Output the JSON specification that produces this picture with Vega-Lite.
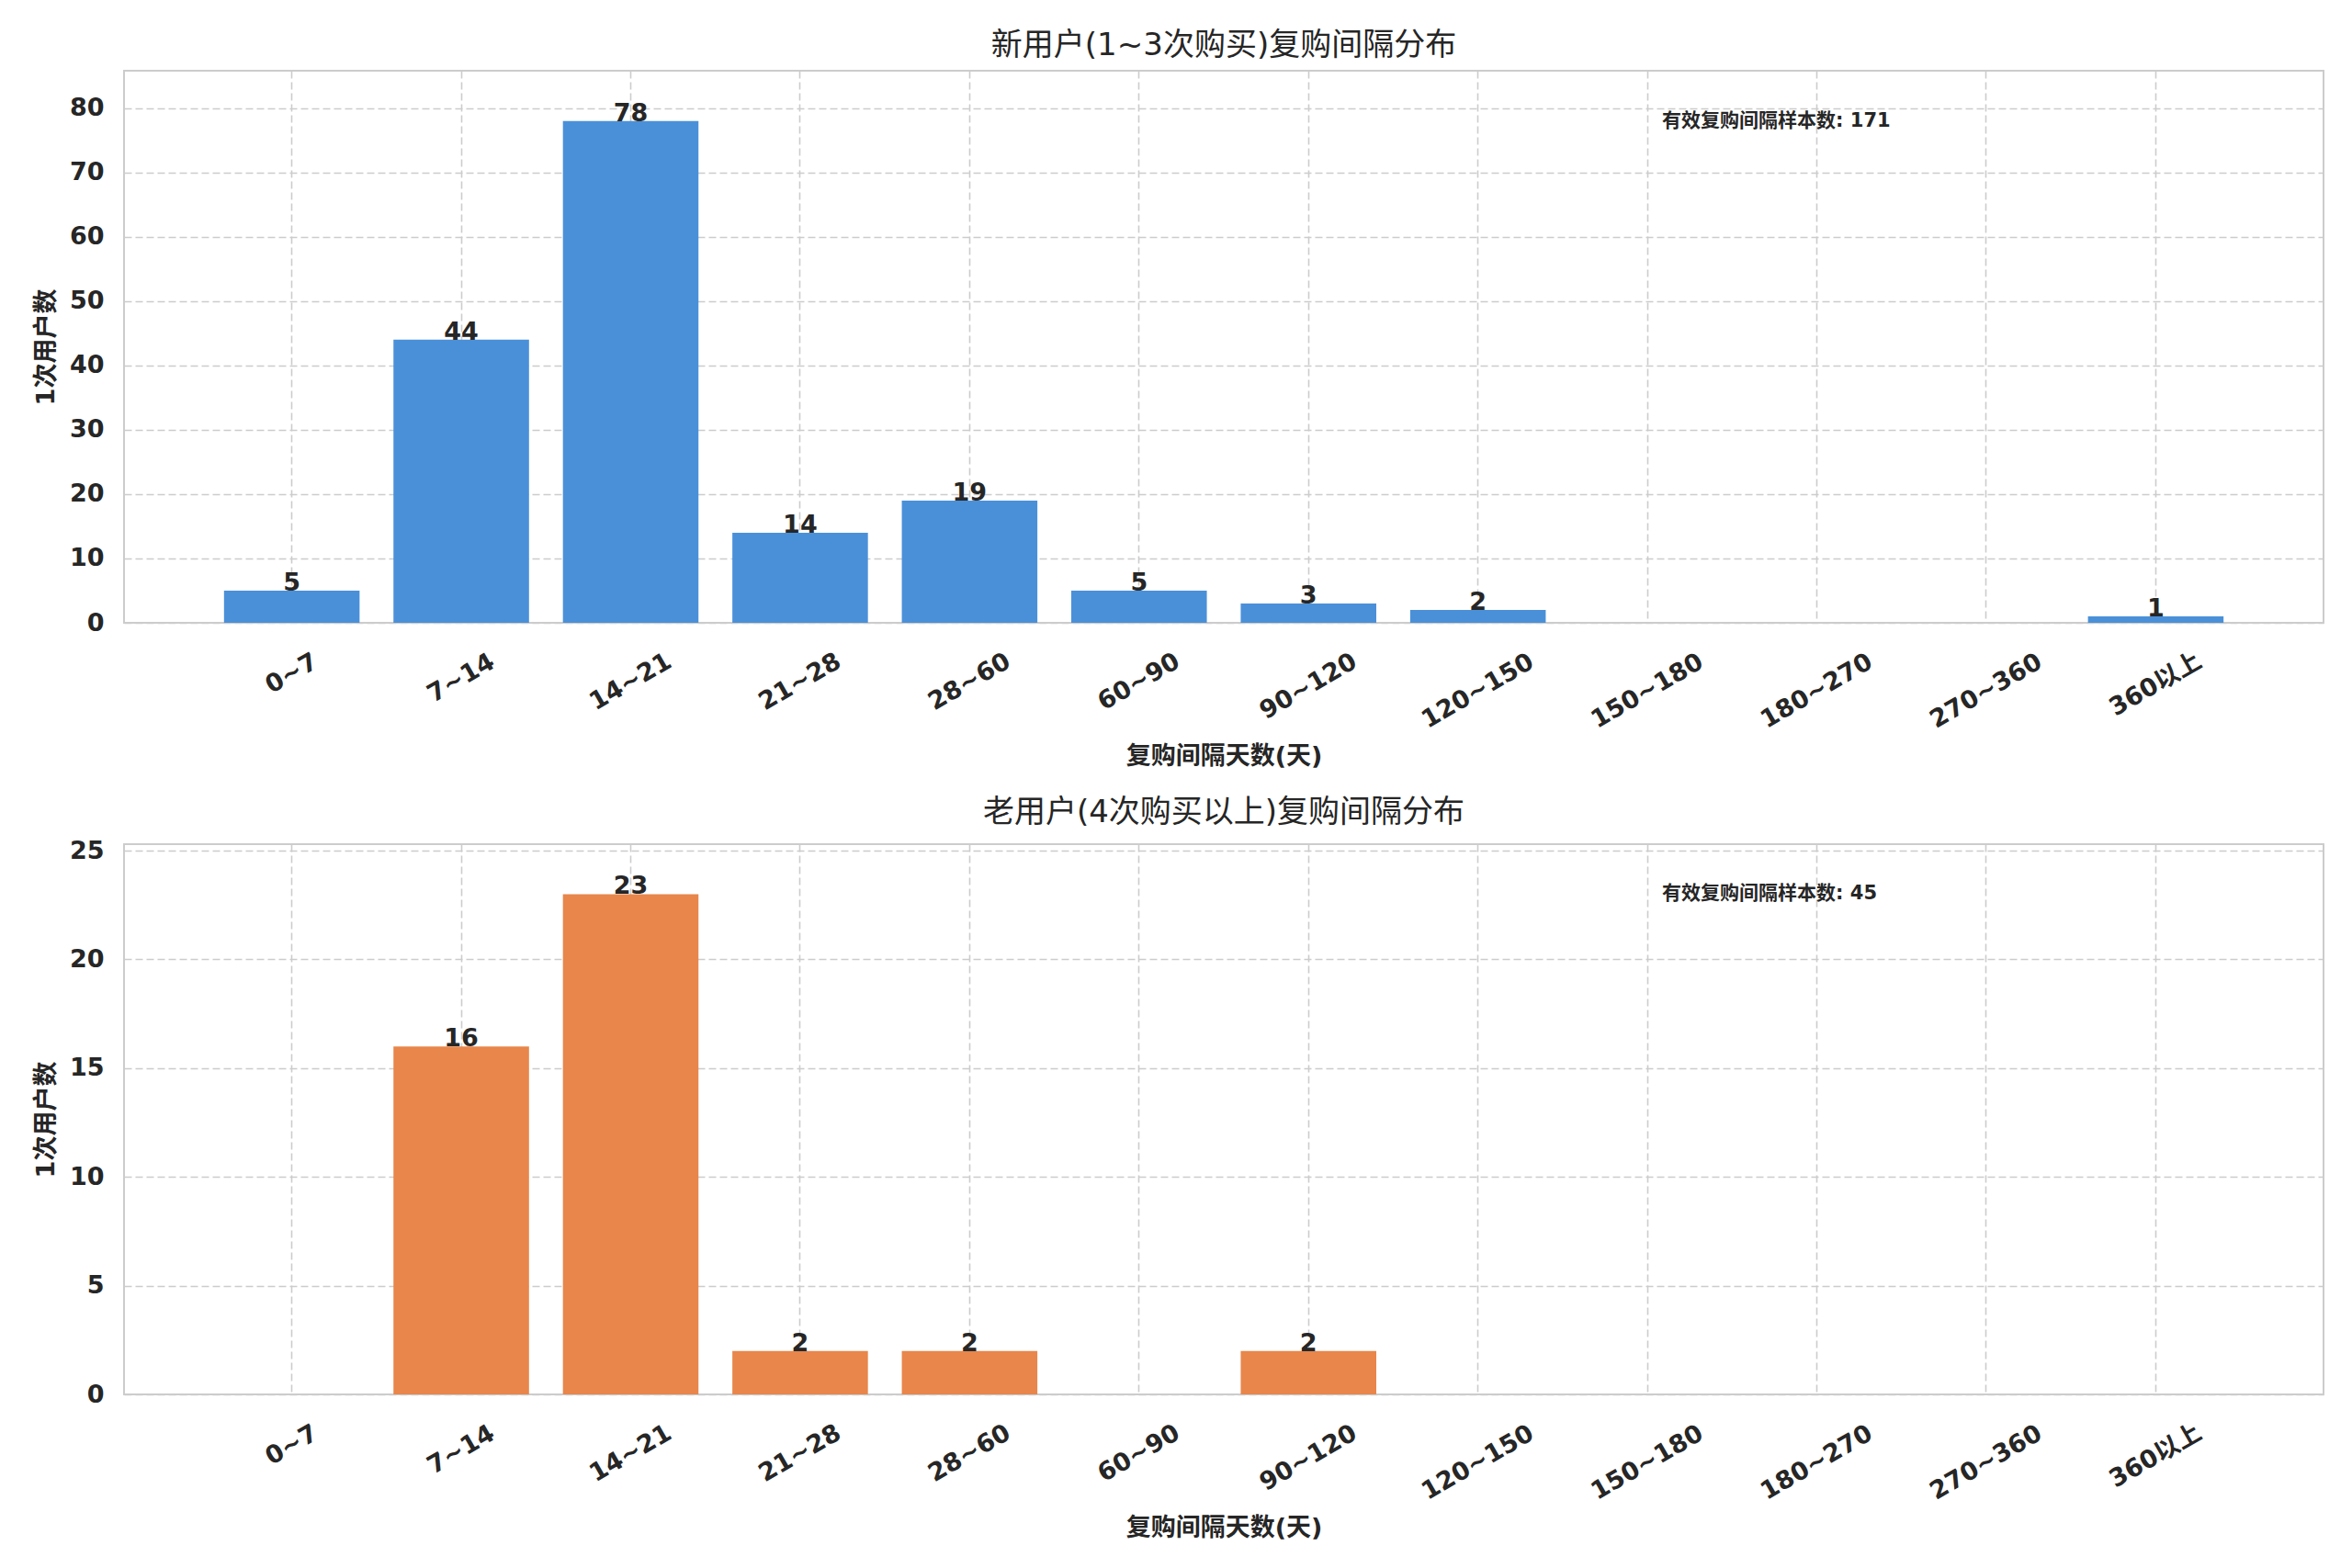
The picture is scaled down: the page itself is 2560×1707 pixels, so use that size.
{
  "$schema": "https://vega.github.io/schema/vega-lite/v6.json",
  "background": "white",
  "padding": {"left": 35, "top": 32, "right": 5, "bottom": 5},
  "datasets": {
    "bins": [
      {"group": "new", "range": "0~7", "count": 5},
      {"group": "new", "range": "7~14", "count": 44},
      {"group": "new", "range": "14~21", "count": 78},
      {"group": "new", "range": "21~28", "count": 14},
      {"group": "new", "range": "28~60", "count": 19},
      {"group": "new", "range": "60~90", "count": 5},
      {"group": "new", "range": "90~120", "count": 3},
      {"group": "new", "range": "120~150", "count": 2},
      {"group": "new", "range": "360以上", "count": 1},
      {"group": "old", "range": "7~14", "count": 16},
      {"group": "old", "range": "14~21", "count": 23},
      {"group": "old", "range": "21~28", "count": 2},
      {"group": "old", "range": "28~60", "count": 2},
      {"group": "old", "range": "90~120", "count": 2}
    ],
    "notes": [
      {"group": "new", "note": "有效复购间隔样本数: 171", "at": "150~180"},
      {"group": "old", "note": "有效复购间隔样本数: 45", "at": "150~180"}
    ]
  },
  "spacing": 29,
  "vconcat": [
    {
      "width": 2394,
      "height": 601,
      "title": "新用户(1~3次购买)复购间隔分布",
      "encoding": {
        "x": {
          "field": "range", "type": "nominal", "title": "复购间隔天数(天)",
          "scale": {"domain": ["0~7", "7~14", "14~21", "21~28", "28~60", "60~90", "90~120", "120~150", "150~180", "180~270", "270~360", "360以上"], "paddingInner": 0.2, "paddingOuter": 0.59}
        },
        "y": {
          "field": "count", "type": "quantitative", "title": "1次用户数",
          "scale": {"domain": [0, 85.8], "nice": false},
          "axis": {"values": [0, 10, 20, 30, 40, 50, 60, 70, 80]}
        }
      },
      "layer": [
        {
          "data": {"name": "bins"},
          "transform": [{"filter": "datum.group == 'new'"}],
          "mark": {"type": "bar", "color": "#4A90D9"}
        },
        {
          "data": {"name": "bins"},
          "transform": [{"filter": "datum.group == 'new'"}],
          "mark": {"type": "text", "baseline": "alphabetic", "fontSize": 27, "fontWeight": "bold", "color": "#262626"},
          "encoding": {"text": {"field": "count", "type": "quantitative"}}
        },
        {
          "data": {"name": "bins"},
          "transform": [
            {"filter": "datum.group == 'new'"},
            {"aggregate": [{"op": "max", "field": "count", "as": "top"}], "groupby": ["group"]},
            {"lookup": "group", "from": {"data": {"name": "notes"}, "key": "group", "fields": ["note", "at"]}}
          ],
          "mark": {"type": "text", "align": "left", "baseline": "middle", "dx": 16, "fontSize": 21, "fontWeight": "bold", "color": "#262626"},
          "encoding": {
            "x": {"field": "at", "type": "nominal"},
            "y": {"field": "top", "type": "quantitative"},
            "text": {"field": "note", "type": "nominal"}
          }
        }
      ]
    },
    {
      "width": 2394,
      "height": 599,
      "title": "老用户(4次购买以上)复购间隔分布",
      "encoding": {
        "x": {
          "field": "range", "type": "nominal", "title": "复购间隔天数(天)",
          "scale": {"domain": ["0~7", "7~14", "14~21", "21~28", "28~60", "60~90", "90~120", "120~150", "150~180", "180~270", "270~360", "360以上"], "paddingInner": 0.2, "paddingOuter": 0.59}
        },
        "y": {
          "field": "count", "type": "quantitative", "title": "1次用户数",
          "scale": {"domain": [0, 25.3], "nice": false},
          "axis": {"values": [0, 5, 10, 15, 20, 25]}
        }
      },
      "layer": [
        {
          "data": {"name": "bins"},
          "transform": [{"filter": "datum.group == 'old'"}],
          "mark": {"type": "bar", "color": "#E8864B"}
        },
        {
          "data": {"name": "bins"},
          "transform": [{"filter": "datum.group == 'old'"}],
          "mark": {"type": "text", "baseline": "alphabetic", "fontSize": 27, "fontWeight": "bold", "color": "#262626"},
          "encoding": {"text": {"field": "count", "type": "quantitative"}}
        },
        {
          "data": {"name": "bins"},
          "transform": [
            {"filter": "datum.group == 'old'"},
            {"aggregate": [{"op": "max", "field": "count", "as": "top"}], "groupby": ["group"]},
            {"lookup": "group", "from": {"data": {"name": "notes"}, "key": "group", "fields": ["note", "at"]}}
          ],
          "mark": {"type": "text", "align": "left", "baseline": "middle", "dx": 16, "fontSize": 21, "fontWeight": "bold", "color": "#262626"},
          "encoding": {
            "x": {"field": "at", "type": "nominal"},
            "y": {"field": "top", "type": "quantitative"},
            "text": {"field": "note", "type": "nominal"}
          }
        }
      ]
    }
  ],
  "config": {
    "font": "DejaVu Sans, Noto Sans CJK SC",
    "view": {"stroke": "#cccccc", "strokeWidth": 2},
    "title": {"fontSize": 34, "fontWeight": "normal", "color": "#262626", "offset": 10, "anchor": "middle"},
    "axis": {
      "domain": false,
      "ticks": false,
      "tickSize": 0,
      "grid": true,
      "gridColor": "#cccccc",
      "gridDash": [8, 4],
      "gridWidth": 1.6,
      "labelFontSize": 27,
      "labelFontWeight": "bold",
      "labelColor": "#262626",
      "titleFontSize": 27,
      "titleFontWeight": "bold",
      "titleColor": "#262626"
    },
    "axisX": {
      "bandPosition": 0.5,
      "labelAngle": -30,
      "labelAlign": "center",
      "labelBaseline": "middle",
      "labelPadding": {
        "condition": [
          {"test": "length(datum.label) == 7", "value": 74},
          {"test": "datum.label == '90~120'", "value": 69},
          {"test": "datum.label == '360以上'", "value": 67},
          {"test": "length(datum.label) == 5", "value": 64},
          {"test": "length(datum.label) == 4", "value": 60}
        ],
        "value": 55
      },
      "titlePadding": 13
    },
    "axisY": {
      "labelPadding": 22,
      "titlePadding": 11
    }
  }
}
